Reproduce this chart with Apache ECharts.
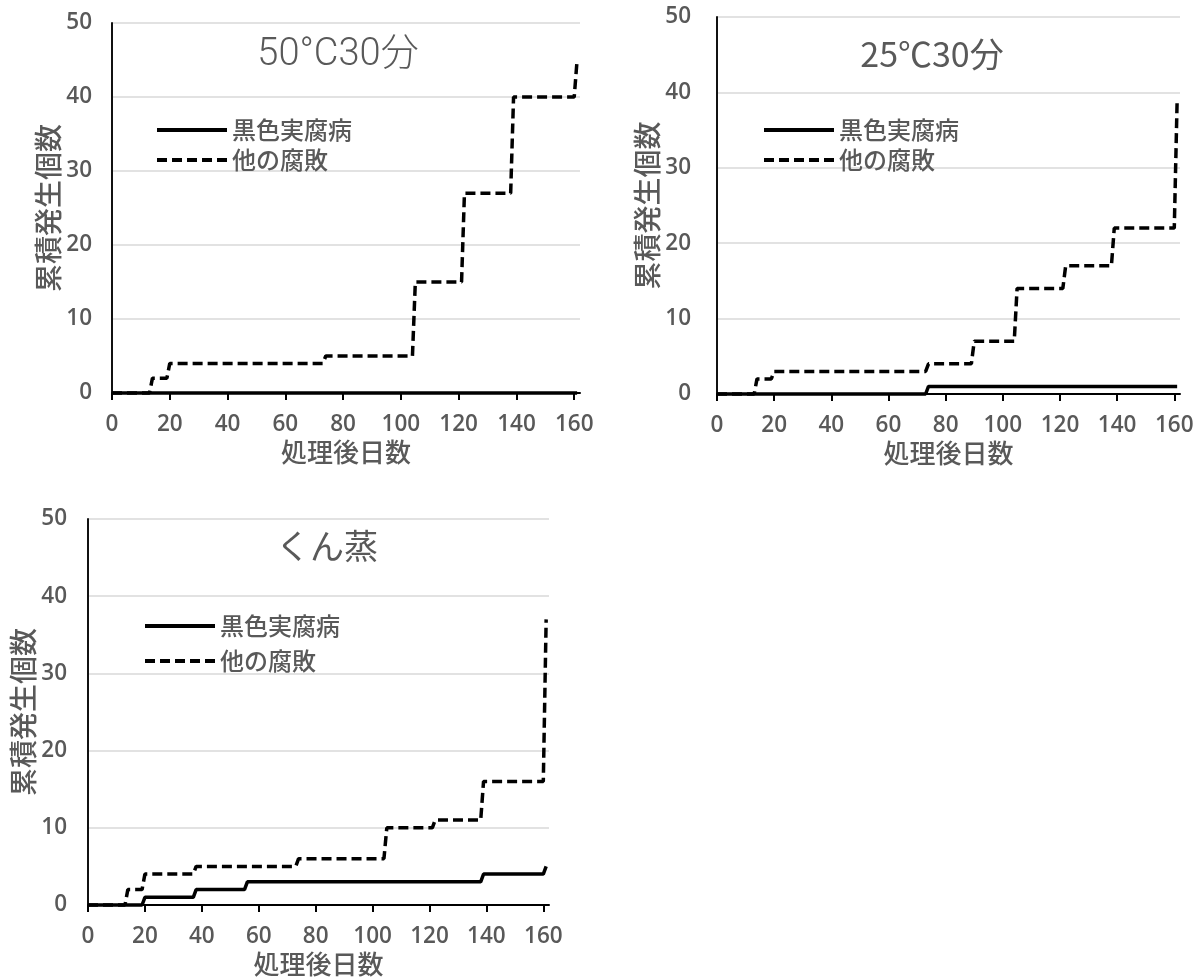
<!DOCTYPE html>
<html>
<head>
<meta charset="utf-8">
<script src="https://cdn.jsdelivr.net/npm/echarts@6/dist/echarts.min.js"></script>
<style>
html,body{margin:0;padding:0;background:#fff;}
#main{width:1197px;height:980px;}
</style>
</head>
<body>
<div id="main"></div>
<script>
// ---- data ----
const seriesNames = ['黒色実腐病', '他の腐敗'];
const panelTitles = ['50°C30分', '25℃30分', 'くん蒸'];
const xTicks = [0, 20, 40, 60, 80, 100, 120, 140, 160];
const yTicks = [0, 10, 20, 30, 40, 50];
// panel 1: 50°C30分  [day, cumulative count]
const p1Black = [[0,0],[161,0]];
const p1Other = [[0,0],[13,0],[14,2],[19,2],[20,4],[73,4],[74,5],[104,5],[105,15],[121,15],[122,27],[138,27],[139,40],[160,40],[161,45]];
// panel 2: 25℃30分
const p2Black = [[0,0],[73,0],[74,1],[161,1]];
const p2Other = [[0,0],[13,0],[14,2],[19,2],[20,3],[73,3],[74,4],[89,4],[90,7],[104,7],[105,14],[121,14],[122,17],[138,17],[139,22],[160,22],[161,39]];
// panel 3: くん蒸
const p3Black = [[0,0],[19,0],[20,1],[37,1],[38,2],[55,2],[56,3],[138,3],[139,4],[160,4],[161,5]];
const p3Other = [[0,0],[13,0],[14,2],[19,2],[20,4],[37,4],[38,5],[73,5],[74,6],[104,6],[105,10],[121,10],[122,11],[138,11],[139,16],[160,16],[161,37]];

const panelData = [[p1Black, p1Other], [p2Black, p2Other], [p3Black, p3Other]];

// ---- layout ----
const grids = [
  {left: 112, top: 23, width: 468, height: 370},
  {left: 717, top: 17, width: 463, height: 377},
  {left: 88, top: 519, width: 461, height: 386}
];
const yNameGaps = [47, 55, 50];
const yLabelMargins = [20, 26, 21];
const titlePos = [[338, 55, '300 38px Roboto, "Noto Sans CJK JP"'], [932, 54, '34px "Noto Sans CJK JP"'], [327, 546, '34px "Noto Sans CJK JP"']];
const legendPos = [[150, 113, 6], [757, 113, 6], [138, 609, 11]];

const grey = '#595959';
const labelFont = '"Open Sans", "Noto Sans", sans-serif';
const cjkFont = '"Noto Sans CJK JP", sans-serif';

const option = {
  animation: false,
  backgroundColor: '#fff',
  grid: grids.map(g => Object.assign({containLabel: false}, g)),
  xAxis: grids.map((g, i) => ({
    type: 'value', gridIndex: i, min: 0, max: 162, interval: 20,
    name: '処理後日数', nameLocation: 'middle', nameGap: 46,
    nameTextStyle: {fontSize: 26, color: grey, fontFamily: cjkFont, fontWeight: 500},
    axisLine: {show: true, onZero: false, lineStyle: {color: '#000', width: 2}},
    axisTick: {show: true, customValues: xTicks, length: 7, lineStyle: {color: '#000', width: 2}},
    axisLabel: {customValues: xTicks, color: grey, fontSize: 22.5, margin: 20, fontFamily: labelFont, fontWeight: 600},
    splitLine: {show: false}
  })),
  yAxis: grids.map((g, i) => ({
    type: 'value', gridIndex: i, min: 0, max: 50, interval: 10,
    name: '累積発生個数', nameLocation: 'middle', nameGap: yNameGaps[i], nameRotate: 90,
    nameTextStyle: {fontSize: 28, color: grey, fontFamily: cjkFont, fontWeight: 500},
    axisLine: {show: true, lineStyle: {color: '#111', width: 2}},
    axisTick: {show: false},
    axisLabel: {color: grey, fontSize: 22.5, margin: yLabelMargins[i], fontFamily: labelFont, fontWeight: 600},
    splitLine: {show: true, lineStyle: {color: '#d9d9d9', width: 1.5}}
  })),
  legend: legendPos.map(p => ({
    orient: 'vertical', left: p[0], top: p[1], itemGap: p[2],
    itemWidth: 70, itemHeight: 24, selectedMode: false,
    data: seriesNames,
    itemStyle: {opacity: 0},
    lineStyle: {width: 4},
    textStyle: {fontSize: 24, color: grey, fontFamily: cjkFont, fontWeight: 500}
  })),
  graphic: panelTitles.map((t, i) => ({
    type: 'text', x: titlePos[i][0], y: titlePos[i][1],
    style: {text: t, font: titlePos[i][2], fill: grey, align: 'center', verticalAlign: 'middle', textAlign: 'center', textVerticalAlign: 'middle'}
  })),
  series: []
};

panelData.forEach((pair, i) => {
  option.series.push({
    name: seriesNames[0], type: 'line', xAxisIndex: i, yAxisIndex: i,
    data: pair[0], symbol: 'none', clip: false, z: 3,
    lineStyle: {color: '#000', width: 3.5, type: 'solid'},
    itemStyle: {color: '#000'}
  });
  option.series.push({
    name: seriesNames[1], type: 'line', xAxisIndex: i, yAxisIndex: i,
    data: pair[1], symbol: 'none', clip: false, z: 4,
    lineStyle: {color: '#000', width: 3.5, type: [10, 5]},
    itemStyle: {color: '#000'}
  });
});

const chart = echarts.init(document.getElementById('main'), null, {renderer: 'canvas'});
chart.setOption(option);
</script>
</body>
</html>
